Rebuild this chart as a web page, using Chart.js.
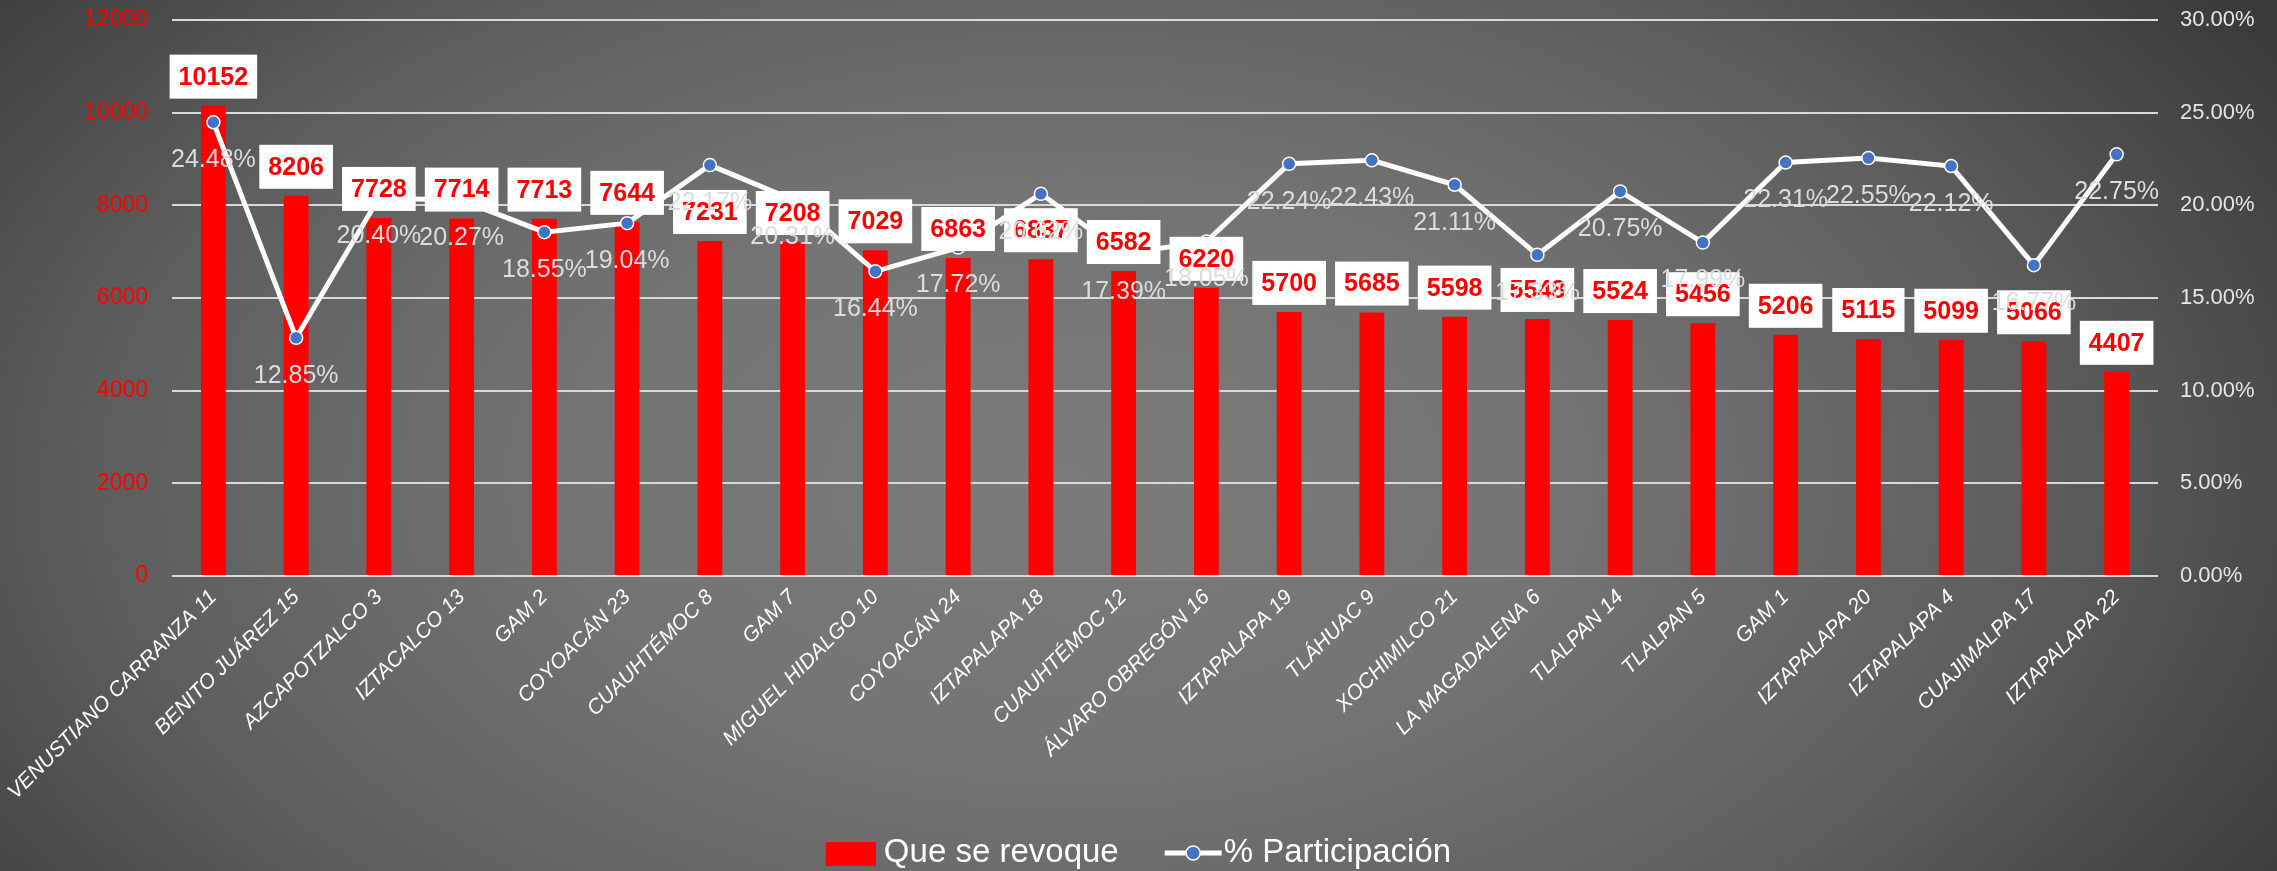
<!DOCTYPE html>
<html>
<head>
<meta charset="utf-8">
<script src="https://cdn.jsdelivr.net/npm/chart.js@4.4.1/dist/chart.umd.min.js"></script>
<style>
  html, body { margin: 0; padding: 0; background: #555; }
  #wrap {
    width: 2277px; height: 871px; position: relative;
    background: radial-gradient(ellipse 62% 95% at 47% 55%, #7b7b7b 0%, #747474 35%, #5e5e5e 68%, #3b3b3b 100%);
  }
</style>
</head>
<body>
<div id="wrap"><canvas id="c"></canvas></div>
<script>
const categories = [
  "VENUSTIANO CARRANZA 11", "BENITO JUÁREZ 15", "AZCAPOTZALCO 3", "IZTACALCO 13", "GAM 2",
  "COYOACÁN 23", "CUAUHTÉMOC 8", "GAM 7", "MIGUEL HIDALGO 10", "COYOACÁN 24",
  "IZTAPALAPA 18", "CUAUHTÉMOC 12", "ÁLVARO OBREGÓN 16", "IZTAPALAPA 19", "TLÁHUAC 9",
  "XOCHIMILCO 21", "LA MAGADALENA 6", "TLALPAN 14", "TLALPAN 5", "GAM 1",
  "IZTAPALAPA 20", "IZTAPALAPA 4", "CUAJIMALPA 17", "IZTAPALAPA 22"
];
const revoqueValues = [
  10152, 8206, 7728, 7714, 7713, 7644, 7231, 7208, 7029, 6863,
  6837, 6582, 6220, 5700, 5685, 5598, 5548, 5524, 5456, 5206,
  5115, 5099, 5066, 4407
];
const participacionValues = [
  24.48, 12.85, 20.40, 20.27, 18.55, 19.04, 22.17, 20.31, 16.44, 17.72,
  20.62, 17.39, 18.05, 22.24, 22.43, 21.11, 17.33, 20.75, 17.99, 22.31,
  22.55, 22.12, 16.77, 22.75
];
const seriesNames = ["Que se revoque", "% Participación"];
const leftTicks = { min: 0, max: 12000, step: 2000 };
const rightTicks = { min: 0, max: 30, step: 5 };

const FONT = "'Liberation Sans', Arial, sans-serif";

const labelsPlugin = {
  id: 'customLabels',
  afterDatasetsDraw(chart) {
    const ctx = chart.ctx;
    const barMeta = chart.getDatasetMeta(0);
    const lineMeta = chart.getDatasetMeta(1);
    ctx.save();
    ctx.font = "bold 25px " + FONT;
    ctx.textAlign = 'center';
    ctx.textBaseline = 'middle';
    barMeta.data.forEach((el, i) => {
      const txt = String(chart.data.datasets[0].data[i]);
      const tw = ctx.measureText(txt).width;
      const w = tw + 18, h = 44;
      const bottom = el.y - 7;
      ctx.fillStyle = '#ffffff';
      ctx.fillRect(el.x - w / 2, bottom - h, w, h);
      ctx.fillStyle = '#ff0000';
      ctx.fillText(txt, el.x, bottom - h / 2 + 1);
    });
    ctx.font = "25px " + FONT;
    ctx.fillStyle = '#dcdcdc';
    lineMeta.data.forEach((el, i) => {
      const v = chart.data.datasets[1].data[i];
      ctx.fillText(v.toFixed(2) + '%', el.x, el.y + 38);
    });
    ctx.restore();
  },
  afterDraw(chart) {
    const ctx = chart.ctx;
    ctx.save();
    ctx.font = "33px " + FONT;
    ctx.textBaseline = 'middle';
    ctx.textAlign = 'left';
    const t1 = chart.data.datasets[0].label, t2 = chart.data.datasets[1].label;
    const w1 = ctx.measureText(t1).width, w2 = ctx.measureText(t2).width;
    const total = 50 + 8 + w1 + 46 + 57 + 2 + w2;
    let x = (chart.width - total) / 2;
    const cy = 853;
    ctx.fillStyle = '#ff0000';
    ctx.fillRect(x, cy - 11, 50, 24);
    x += 58;
    ctx.fillStyle = '#ffffff';
    ctx.fillText(t1, x, cy);
    x += w1 + 46;
    ctx.strokeStyle = '#ffffff';
    ctx.lineWidth = 5;
    ctx.beginPath(); ctx.moveTo(x, cy); ctx.lineTo(x + 57, cy); ctx.stroke();
    ctx.beginPath(); ctx.arc(x + 28.5, cy, 7, 0, Math.PI * 2);
    ctx.fillStyle = '#4472c4'; ctx.fill();
    ctx.lineWidth = 1.5; ctx.strokeStyle = '#ffffff'; ctx.stroke();
    x += 59;
    ctx.fillStyle = '#ffffff';
    ctx.fillText(t2, x, cy);
    ctx.restore();
  }
};

function fixY(width) {
  return function (s) {
    s.width = width;
    s.paddingTop = 0;
    s.paddingBottom = 0;
  };
}

new Chart(document.getElementById('c'), {
  data: {
    labels: categories,
    datasets: [
      {
        type: 'bar', label: seriesNames[0], data: revoqueValues,
        backgroundColor: '#ff0000', yAxisID: 'y', order: 1,
        barPercentage: 0.3, categoryPercentage: 1.0
      },
      {
        type: 'line', label: seriesNames[1], data: participacionValues,
        borderColor: '#ffffff', borderWidth: 5, yAxisID: 'y1', order: 0,
        pointRadius: 6.5, pointBackgroundColor: '#4472c4', pointBorderColor: '#ffffff',
        pointBorderWidth: 1.5, tension: 0
      }
    ]
  },
  options: {
    responsive: true, maintainAspectRatio: false, animation: false,
    layout: { padding: { top: 20, left: 0, right: 0, bottom: 0 } },
    plugins: { legend: { display: false }, tooltip: { enabled: false } },
    scales: {
      x: {
        grid: { display: false },
        border: { display: false },
        ticks: {
          color: '#ffffff', maxRotation: 45, minRotation: 45, autoSkip: false,
          padding: 1, font: { family: FONT, size: 21, style: 'italic' }
        },
        afterFit(s) { s.height = 295; s.paddingLeft = 0; s.paddingRight = 0; }
      },
      y: {
        position: 'left', min: leftTicks.min, max: leftTicks.max,
        border: { display: false },
        grid: { color: '#d9d9d9', lineWidth: 2, drawTicks: false },
        ticks: {
          stepSize: leftTicks.step, color: '#ff0000', padding: 24,
          font: { family: FONT, size: 23 },
          callback: v => String(v)
        },
        afterFit: fixY(172)
      },
      y1: {
        position: 'right', min: rightTicks.min, max: rightTicks.max,
        border: { display: false },
        grid: { display: false, drawTicks: false },
        ticks: {
          stepSize: rightTicks.step, color: '#e6e6e6', padding: 22,
          font: { family: FONT, size: 22 },
          callback: v => Number(v).toFixed(2) + '%'
        },
        afterFit: fixY(119)
      }
    }
  },
  plugins: [labelsPlugin]
});
</script>
</body>
</html>
